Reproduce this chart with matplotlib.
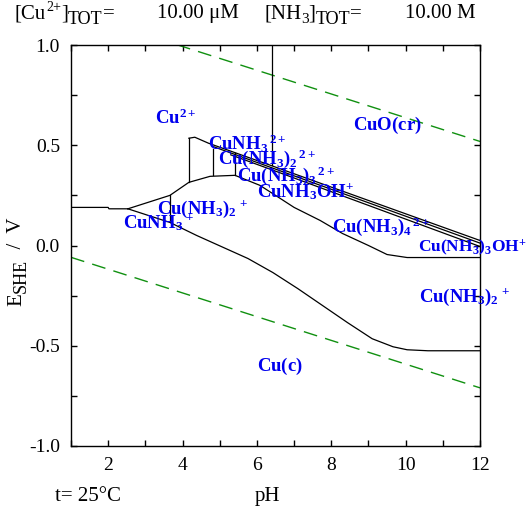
import matplotlib
matplotlib.use('Agg')
import matplotlib.pyplot as plt
import numpy as np

plt.rcParams['font.family'] = ['Liberation Serif', 'DejaVu Serif']
plt.rcParams['mathtext.fontset'] = 'custom'
plt.rcParams['mathtext.rm'] = 'Liberation Serif'
plt.rcParams['mathtext.it'] = 'Liberation Serif:italic'
plt.rcParams['mathtext.bf'] = 'Liberation Serif:bold'
plt.rcParams['axes.unicode_minus'] = False

# water stability lines (dashed green)
o2_ph = [1, 12]
o2_e = [1.170, 0.519]
h2_ph = [1, 12]
h2_e = [-0.059, -0.710]

# Cu2+ / Cu(c) at low pH
cu_ph = [1.0, 2.0, 2.02, 2.53]
cu_e = [0.19, 0.19, 0.183, 0.183]

# Cu(II) / Cu(I) boundary
ox_ph = [2.53, 3.66, 4.17, 4.74, 5.41, 6.08, 6.5, 7.0, 7.7, 8.3, 9.0, 9.5, 10.04, 12.0]
ox_e = [0.183, 0.25, 0.315, 0.345, 0.35, 0.30, 0.25, 0.19, 0.125, 0.06, 0.0, -0.045, -0.06, -0.06]

# Cu(I) / Cu(c) boundary
red_ph = [2.53, 3.66, 4.38, 5.1, 5.76, 6.43, 7.1, 7.77, 8.44, 9.1, 9.66, 10.04, 10.6, 12.0]
red_e = [0.183, 0.115, 0.05, -0.01, -0.065, -0.135, -0.215, -0.30, -0.385, -0.465, -0.505, -0.52, -0.525, -0.525]

# upper bundle (Cu2+ / CuO(cr) vs ammine complexes)
top_ph = [4.17, 4.33, 4.7, 6.41, 12.0]
top_e = [0.535, 0.54, 0.51, 0.397, 0.025]
top2_ph = [4.8, 6.41, 12.0]
top2_e = [0.495, 0.387, 0.012]
top3_ph = [5.3, 6.41, 12.0]
top3_e = [0.452, 0.377, -0.005]

# vertical boundaries: pH, E bottom, E top
vert_ph = [3.66, 4.17, 4.82, 5.41, 6.41]
vert_lo = [0.115, 0.315, 0.35, 0.35, 0.40]
vert_hi = [0.25, 0.535, 0.48, 0.46, 1.0]

labels = [r'$\mathbf{Cu^{2+}}$', r'$\mathbf{CuO(cr)}$', r'$\mathbf{CuNH_3{}^{\,2+}}$',
          r'$\mathbf{Cu(NH_3)_2{}^{\,2+}}$', r'$\mathbf{Cu(NH_3)_3{}^{\,2+}}$',
          r'$\mathbf{CuNH_3OH^{+}}$', r'$\mathbf{Cu(NH_3)_2{}^{\,+}}$',
          r'$\mathbf{CuNH_3{}^{\,+}}$', r'$\mathbf{Cu(NH_3)_4{}^{\,2+}}$',
          r'$\mathbf{Cu(NH_3)_3OH^{+}}$', r'$\mathbf{Cu(NH_3)_2{}^{\,+}}$',
          r'$\mathbf{Cu(c)}$']
label_ph = [3.26, 8.585, 4.685, 4.954, 5.465, 6.0, 3.31, 2.4, 8.02, 10.33, 10.36, 6.0]
label_e = [0.605, 0.575, 0.475, 0.405, 0.32, 0.24, 0.155, 0.085, 0.07, -0.03, -0.28, -0.625]
label_size = [13.5, 13.5, 13.5, 13.5, 13.5, 13.5, 13.5, 13.5, 13.5, 12.5, 13.5, 13.5]

W, H = 528, 512
fig = plt.figure(figsize=(W / 100, H / 100), dpi=100)
ax = fig.add_axes([71 / W, 66 / H, 409 / W, 401 / H])
rend = fig.canvas.get_renderer()


def seq(x, y, parts, rot=0):
    # parts: (text, offset in px below baseline, fontsize)
    for s, dy, size in parts:
        if rot == 0:
            t = fig.text(x / W, 1 - (y + dy) / H, s, fontsize=size, va='baseline')
            x += t.get_window_extent(rend).width
        else:
            t = fig.text((x + dy) / W, 1 - y / H, s, fontsize=size, rotation=90,
                         rotation_mode='anchor', va='baseline', ha='left')
            y -= t.get_window_extent(rend).height


ax.plot(o2_ph, o2_e, color='#109010', lw=1, dashes=(10, 6))
ax.plot(h2_ph, h2_e, color='#109010', lw=1, dashes=(10, 6))

for px, py in [(cu_ph, cu_e), (ox_ph, ox_e), (red_ph, red_e),
               (top_ph, top_e), (top2_ph, top2_e), (top3_ph, top3_e)]:
    ax.plot(px, py, color='black', lw=0.9)
for p, lo, hi in zip(vert_ph, vert_lo, vert_hi):
    ax.plot([p, p], [lo, hi], color='black', lw=0.9)

for t, x, y, fs in zip(labels, label_ph, label_e, label_size):
    ax.text(x, y, t, color='#0000ee', fontsize=fs, ha='left', va='baseline')

ax.set_xlim(1, 12)
ax.set_ylim(-1.0, 1.0)
ax.set_xticks([2, 4, 6, 8, 10, 12])
ax.set_xticks(np.arange(1, 13), minor=True)
ax.set_yticks([-1.0, -0.5, 0.0, 0.5, 1.0])
ax.set_yticklabels(['-1.0', '-0.5', '0.0', '0.5', '1.0'])
ax.set_yticks(np.arange(-1.0, 1.01, 0.25), minor=True)
ax.tick_params(which='both', direction='in', top=True, right=True, length=4.3,
               width=1, labelsize=14)
ax.tick_params(axis='x', pad=8)
ax.tick_params(axis='y', pad=8)
for s in ax.spines.values():
    s.set_linewidth(1)

seq(15, 18, [('[Cu', 0, 15), ('2+', -7, 10), (']', 0, 15), ('TOT', 6, 13), ('=', 0, 15)])
seq(157, 18, [('10.00 μM', 0, 15)])
seq(264, 18, [('[NH', 0, 15), ('3', 5, 11), (']', 0, 15), ('TOT', 6, 13), ('=', 0, 15)])
seq(405, 18, [('10.00 M', 0, 15)])

seq(55, 501, [('t= 25°C', 0, 15)])
seq(255, 501, [('pH', 0, 15)])
seq(21, 306, [('E', 0, 15), ('SHE', 5, 13), ('  /  V', 0, 15)], rot=90)

fig.savefig('out.png', dpi=100)
